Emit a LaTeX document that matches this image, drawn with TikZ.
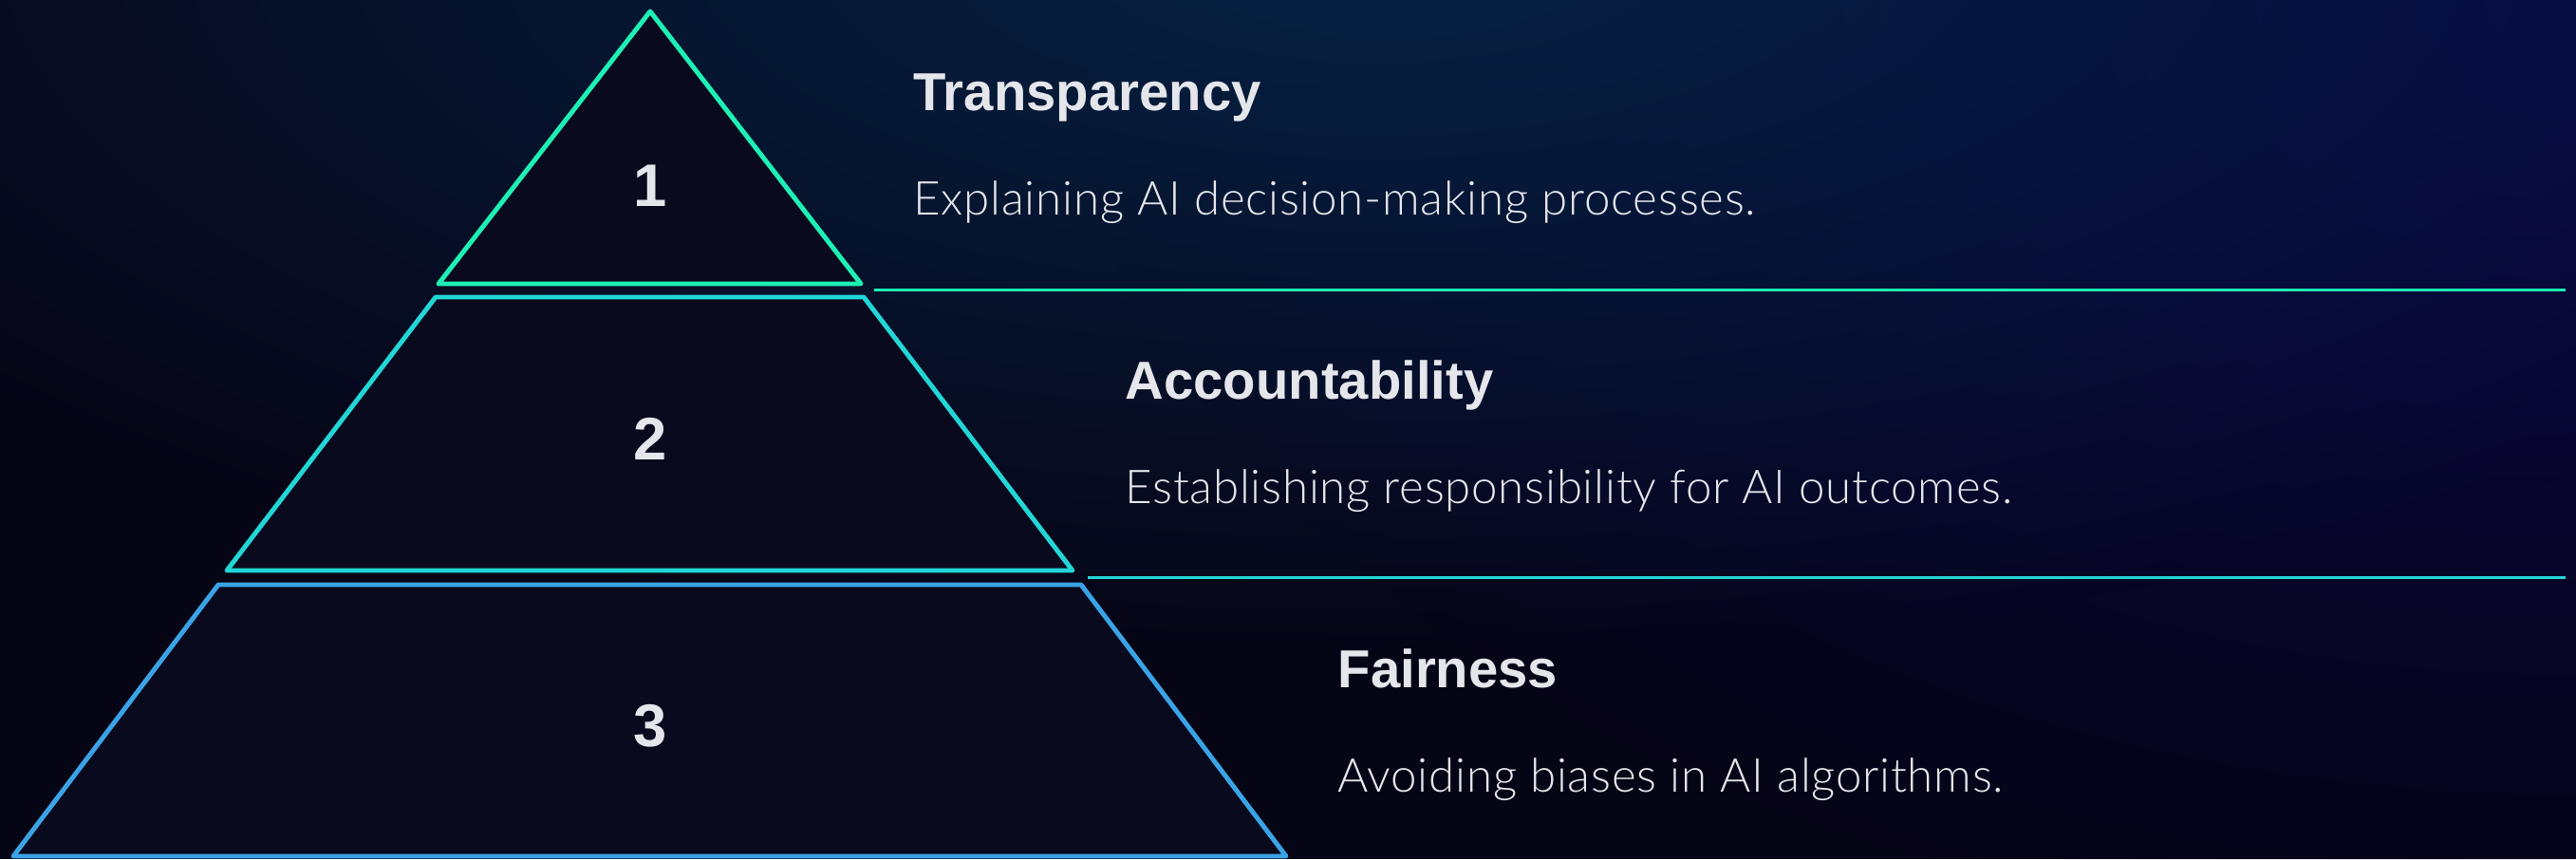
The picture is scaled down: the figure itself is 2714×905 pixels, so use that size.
\documentclass[tikz,border=0pt]{standalone}
\usepackage{fontspec}
\setmainfont{Liberation Sans}
\newfontfamily\descfont{Lato Light}[LetterSpace=1.5]
\usetikzlibrary{positioning, fadings}
\definecolor{bgdark}{RGB}{6, 5, 22}
\definecolor{glowblue}{RGB}{6, 34, 68}
\definecolor{glowindigo}{RGB}{10, 4, 70}
\definecolor{tierfill}{RGB}{10, 10, 30}
\definecolor{mint}{RGB}{29, 240, 180}
\definecolor{aqua}{RGB}{34, 214, 214}
\definecolor{sky}{RGB}{58, 163, 230}
\definecolor{lighttext}{RGB}{228, 230, 235}
\tikzfading[name=glowfade, inner color=transparent!0, outer color=transparent!100]
\tikzstyle{tier} = [
    line width=1.4pt,
    line join=round,
    fill=tierfill
]
\tikzstyle{number} = [
    font=\bfseries\fontsize{18}{20}\selectfont,
    text=lighttext
]
\tikzstyle{title} = [
    anchor=base west,
    inner sep=0pt,
    font=\bfseries\fontsize{16}{18}\selectfont,
    text=lighttext
]
\tikzstyle{desc} = [
    anchor=base west,
    inner sep=0pt,
    font=\descfont\fontsize{14}{16}\selectfont,
    text=lighttext
]
\tikzstyle{divider} = [
    line width=0.85pt
]
\begin{document}
\begin{tikzpicture}[x=0.01cm, y=-0.01cm]
        \useasboundingbox (0,0) rectangle (2714,905);
        % background and glows
        \fill[bgdark] (0,0) rectangle (2714,905);
        \begin{scope}
            \clip (0,0) rectangle (2714,905);
            \fill[glowindigo, path fading=glowfade] (2714,0) ellipse [x radius=16cm, y radius=10cm];
            \fill[glowblue, path fading=glowfade] (1450,-60) ellipse [x radius=19cm, y radius=7.5cm];
        \end{scope}

        % pyramid tiers
        \draw[tier, draw=mint] (685,12) -- (907,299) -- (462,299) -- cycle;
        \draw[tier, draw=aqua] (459,313) -- (910,313) -- (1130,601) -- (239,601) -- cycle;
        \draw[tier, draw=sky] (230,616) -- (1139,616) -- (1355,902) -- (14,902) -- cycle;

        \node[number] (n1) at (685,196) {1};
        \node[number] (n2) at (685,462) {2};
        \node[number] (n3) at (685,765) {3};

        % dividers
        \coordinate (d1a) at (921,305);
        \coordinate (d1b) at (2703,305);
        \coordinate (d2a) at (1146,608);
        \coordinate (d2b) at (2703,608);
        \draw[divider, draw=mint] (d1a) -- (d1b);
        \draw[divider, draw=aqua] (d2a) -- (d2b);

        % labels
        \node[title] (t1) at (962,116) {Transparency};
        \node[desc] (s1) at (962,226) {Explaining AI decision-making processes.};
        \node[title] (t2) at (1185,420) {Accountability};
        \node[desc] (s2) at (1185,530) {Establishing responsibility for AI outcomes.};
        \node[title] (t3) at (1409,724) {Fairness};
        \node[desc] (s3) at (1409,834) {Avoiding biases in AI algorithms.};
    \end{tikzpicture}
\end{document}
